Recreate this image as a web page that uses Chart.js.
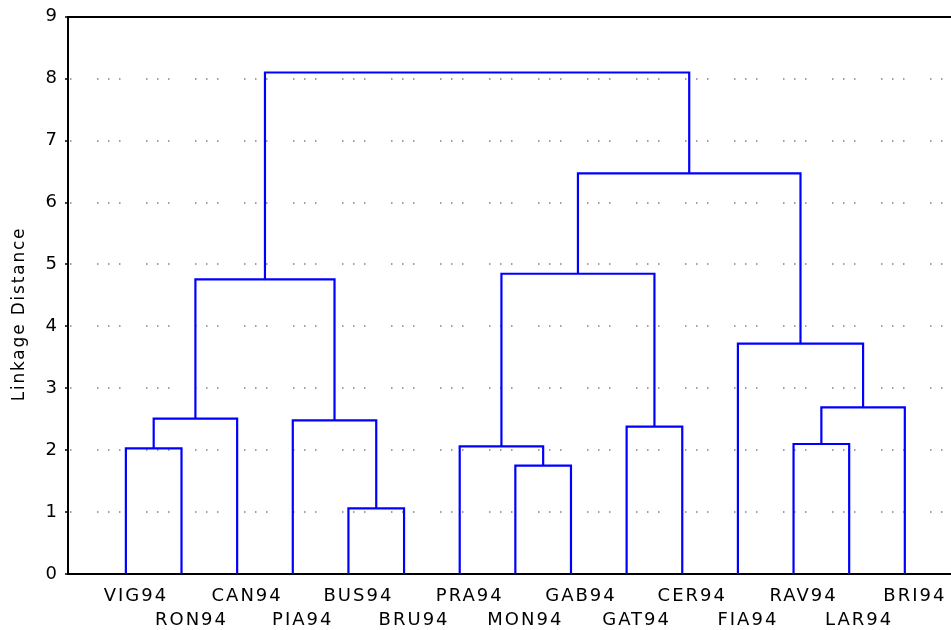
<!DOCTYPE html>
<html>
<head>
<meta charset="utf-8">
<script src="https://cdn.jsdelivr.net/npm/chart.js@4/dist/chart.umd.min.js"></script>
<style>
  html, body { margin: 0; padding: 0; background: #fff; overflow: hidden; }
  #wrap { width: 951px; height: 630px; position: relative; }
</style>
</head>
<body>
<div id="wrap"><canvas id="c"></canvas></div>
<script>
// Leaf order along the horizontal axis (left to right)
const leaves = ['VIG94', 'RON94', 'CAN94', 'PIA94', 'BUS94', 'BRU94', 'PRA94', 'MON94',
                'GAB94', 'GAT94', 'CER94', 'FIA94', 'RAV94', 'LAR94', 'BRI94'];

// Agglomeration steps: ids 0..14 are leaves, id 15+k is the cluster formed at step k
const joinA      = [0,    15,   4,    3,    16,   7,    6,    9,    21,   12,   24,   11,   23,   19];
const joinB      = [1,    2,    5,    17,   18,   8,    20,   10,   22,   13,   14,   25,   26,   27];
const joinHeight = [2.03, 2.51, 1.06, 2.48, 4.76, 1.75, 2.06, 2.38, 4.85, 2.10, 2.69, 3.72, 6.47, 8.10];

// Linkage distance ticks
const yTicks = [0, 1, 2, 3, 4, 5, 6, 7, 8, 9];

const X_MIN = -0.04, X_MAX = 15.83;

// Horizontal position and height of every node (leaves sit at 1..n on the x scale)
const nodeX = leaves.map((_, i) => i + 1);
const nodeH = leaves.map(() => 0);
joinA.forEach((a, k) => {
  const b = joinB[k];
  nodeX.push((nodeX[a] + nodeX[b]) / 2);
  nodeH.push(joinHeight[k]);
});

// One bracket-shaped line per join
const datasets = joinA.map((a, k) => {
  const b = joinB[k];
  const h = joinHeight[k];
  return {
    data: [
      { x: nodeX[a], y: nodeH[a] },
      { x: nodeX[a], y: h },
      { x: nodeX[b], y: h },
      { x: nodeX[b], y: nodeH[b] }
    ],
    showLine: true,
    borderColor: '#0000ff',
    borderWidth: 2.2,
    pointRadius: 0,
    tension: 0,
    fill: false
  };
});

// Wide, evenly spaced lettering for all chart text
const spacedText = {
  id: 'spacedText',
  beforeDraw(chart) { chart.ctx.letterSpacing = '2px'; },
  afterDraw(chart) { chart.ctx.letterSpacing = '0px'; }
};

// Vertical axis caption
const yCaption = {
  id: 'yCaption',
  afterDraw(chart) {
    const ctx = chart.ctx;
    ctx.save();
    ctx.letterSpacing = '1.8px';
    ctx.font = '17px "DejaVu Sans"';
    ctx.fillStyle = '#000';
    ctx.textAlign = 'center';
    ctx.textBaseline = 'middle';
    ctx.translate(20, 314);
    ctx.rotate(-Math.PI / 2);
    ctx.fillText('Linkage Distance', 0, 0);
    ctx.restore();
  }
};

Chart.defaults.font.family = '"DejaVu Sans", sans-serif';
Chart.defaults.color = '#000';

new Chart(document.getElementById('c'), {
  type: 'scatter',
  data: { datasets },
  plugins: [spacedText, yCaption],
  options: {
    responsive: true,
    maintainAspectRatio: false,
    animation: false,
    layout: { padding: 0 },
    plugins: { legend: { display: false }, tooltip: { enabled: false } },
    scales: {
      x: {
        type: 'linear',
        position: 'bottom',
        min: X_MIN,
        max: X_MAX,
        afterBuildTicks(s) { s.ticks = nodeX.slice(0, leaves.length).map(v => ({ value: v })); },
        afterFit(s) { s.height = 56; },
        grid: { display: false, drawTicks: false },
        border: { color: '#000', width: 2 },
        ticks: {
          autoSkip: false,
          maxRotation: 0,
          minRotation: 0,
          padding: 11,
          labelOffset: 10,
          color: '#000',
          font: { size: 18, lineHeight: 1.3 },
          callback(v) {
            const i = Math.round(v) - 1;
            return i % 2 === 0 ? [leaves[i], ''] : ['', leaves[i]];
          }
        }
      },
      xTop: {
        type: 'linear',
        position: 'top',
        min: X_MIN,
        max: X_MAX,
        afterFit(s) { s.height = 16; },
        grid: { display: false, drawTicks: false },
        ticks: { display: false },
        border: { color: '#000', width: 2 }
      },
      y: {
        type: 'linear',
        min: 0,
        max: 9,
        afterBuildTicks(s) { s.ticks = yTicks.map(v => ({ value: v })); },
        afterFit(s) { s.width = 68; },
        ticks: { padding: 6, color: '#000', font: { size: 18 } },
        grid: {
          color: c => (c.tick && (c.tick.value === 0 || c.tick.value === 9)) ? 'rgba(0,0,0,0)' : '#a0a0a0',
          lineWidth: 2,
          tickColor: '#000',
          tickLength: 3,
          tickWidth: 1.5
        },
        border: { color: '#000', width: 2, dash: [1.5, 9.5, 1.5, 9.5, 1.5, 25.5], dashOffset: 21 }
      }
    }
  }
});
</script>
</body>
</html>
